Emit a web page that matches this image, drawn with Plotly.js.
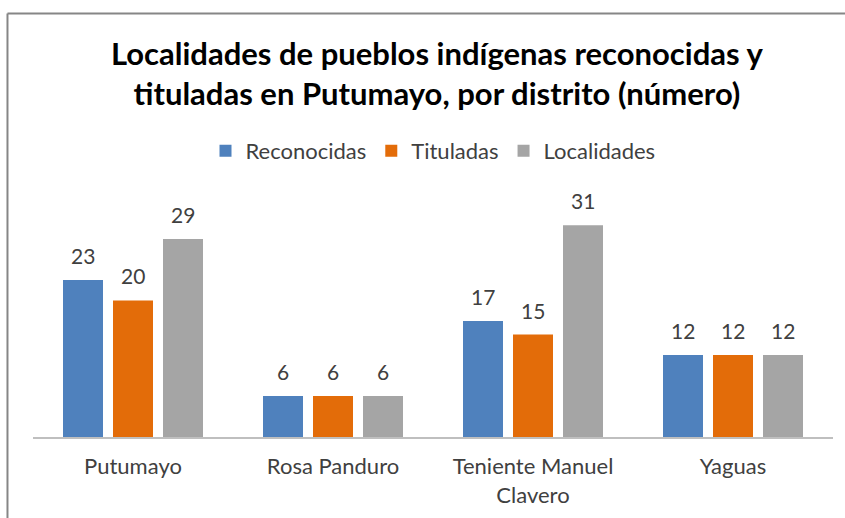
<!DOCTYPE html>
<html>
<head>
<meta charset="utf-8">
<script src="https://cdn.plot.ly/plotly-3.0.1.min.js"></script>
<style>html,body{margin:0;padding:0;background:#fff;}#chart{width:845px;height:518px;}</style>
</head>
<body>
<div id="chart"></div>
<script>
const categories = ["Putumayo", "Rosa Panduro", "Teniente Manuel<br>Clavero", "Yaguas"];
const seriesNames = ["Reconocidas", "Tituladas", "Localidades"];
const reconocidas = [23, 6, 17, 12];
const tituladas = [20, 6, 15, 12];
const localidades = [29, 6, 31, 12];
const colors = ["#4F81BD", "#E36C09", "#A5A5A5"];

const seriesValues = [reconocidas, tituladas, localidades];
const FONT = "Lato, 'Liberation Sans', sans-serif";

const traces = seriesValues.map((vals, i) => ({
  type: "bar",
  name: seriesNames[i],
  x: categories,
  y: vals,
  marker: {color: colors[i]},
  hoverinfo: "none"
}));

const annotations = [];
seriesValues.forEach((vals, i) => {
  vals.forEach((v, j) => {
    annotations.push({
      x: categories[j], y: v, xref: "x", yref: "y",
      text: String(v), showarrow: false,
      xshift: (i - 1) * 50, yshift: 10, yanchor: "bottom",
      font: {family: FONT, size: 21, color: "#404040"}
    });
  });
});

const layout = {
  width: 845, height: 518,
  margin: {l: 33, r: 12, t: 198, b: 81},
  paper_bgcolor: "#fff", plot_bgcolor: "#fff",
  title: {
    text: "<b>Localidades de pueblos indígenas reconocidas y<br>tituladas en Putumayo, por distrito (número)</b>",
    font: {family: FONT, size: 31, color: "#000"},
    x: 0.517, xanchor: "center", y: 0.875, yanchor: "middle"
  },
  barmode: "group",
  bargap: 0.25,
  bargroupgap: 0.2,
  showlegend: true,
  legend: {
    orientation: "h", x: 0.5, xanchor: "center", y: 1.197, yanchor: "middle",
    font: {family: FONT, size: 22, color: "#404040"},
    itemclick: false, itemdoubleclick: false
  },
  xaxis: {
    type: "category",
    showline: true, linecolor: "#BFBFBF", linewidth: 1.5,
    ticks: "", showgrid: false, zeroline: false,
    tickfont: {family: FONT, size: 22, color: "#404040"},
    ticklabelstandoff: 9,
    fixedrange: true
  },
  yaxis: {
    range: [0, 35], visible: false, showgrid: false, zeroline: false, fixedrange: true
  },
  annotations: annotations,
  shapes: [
    {type: "line", xref: "paper", yref: "paper", x0: -0.0319, x1: -0.0319, y0: 1.772, y1: -0.4, line: {color: "#868686", width: 2}},
    {type: "line", xref: "paper", yref: "paper", x0: -0.0319, x1: 1.05, y0: 1.772, y1: 1.772, line: {color: "#868686", width: 2}}
  ]
};

Plotly.newPlot("chart", traces, layout, {displayModeBar: false, staticPlot: true});
</script>
</body>
</html>
